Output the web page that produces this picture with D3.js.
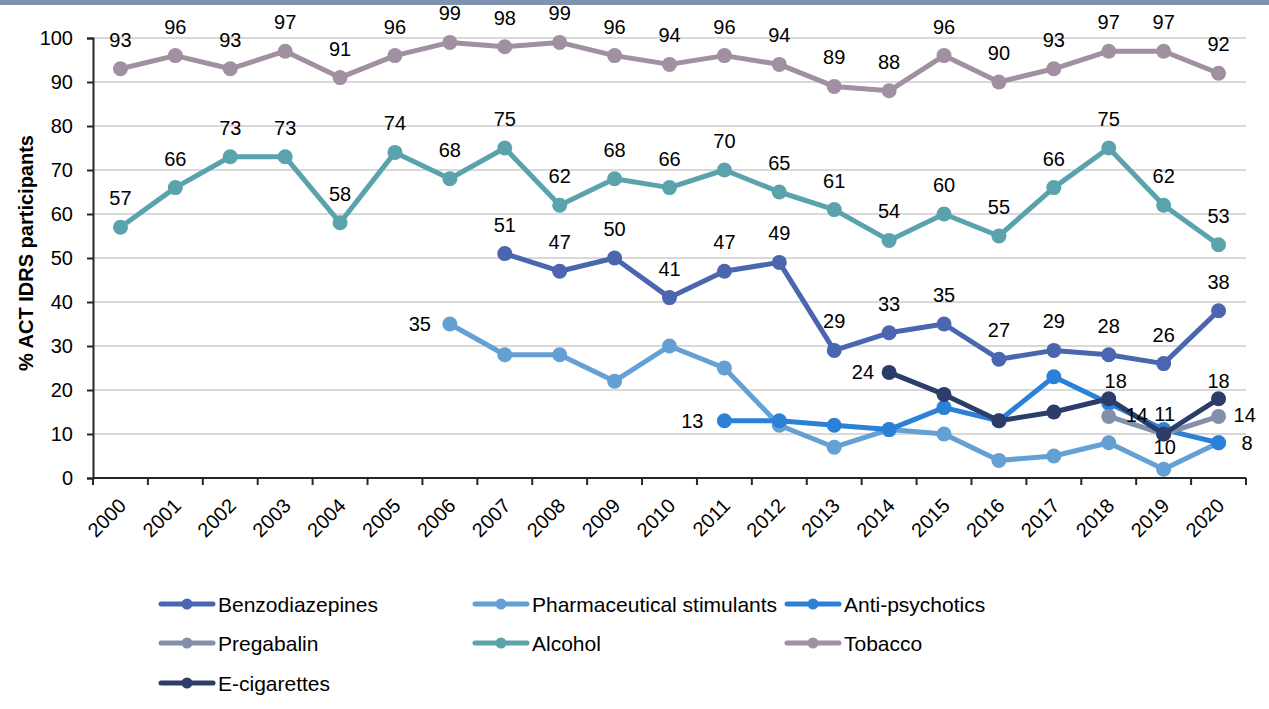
<!DOCTYPE html>
<html><head><meta charset="utf-8">
<script src="https://cdn.jsdelivr.net/npm/d3@7"></script>
<style>body{margin:0;background:#fff;}svg{display:block;font-family:"Liberation Sans",Arial,sans-serif;}</style>
</head><body><svg id="c" width="1269" height="709"></svg>
<script>
const years = ["2000","2001","2002","2003","2004","2005","2006","2007","2008","2009","2010","2011","2012","2013","2014","2015","2016","2017","2018","2019","2020"];
const yTicks = [0,10,20,30,40,50,60,70,80,90,100];
const benzo = [null,null,null,null,null,null,null,51,47,50,41,47,49,29,33,35,27,29,28,26,38];
const pharma = [null,null,null,null,null,null,35,28,28,22,30,25,12,7,11,10,4,5,8,2,8];
const antipsych = [null,null,null,null,null,null,null,null,null,null,null,13,13,12,11,16,13,23,17,11,8];
const pregabalin = [null,null,null,null,null,null,null,null,null,null,null,null,null,null,null,null,null,null,14,10,14];
const alcohol = [57,66,73,73,58,74,68,75,62,68,66,70,65,61,54,60,55,66,75,62,53];
const tobacco = [93,96,93,97,91,96,99,98,99,96,94,96,94,89,88,96,90,93,97,97,92];
const ecig = [null,null,null,null,null,null,null,null,null,null,null,null,null,null,24,19,13,15,18,10,18];
const seriesNames = ["Benzodiazepines","Pharmaceutical stimulants","Anti-psychotics","Pregabalin","Alcohol","Tobacco","E-cigarettes"];

// label layout: [index, anchor, dx, dy]
const series = [
  {name:seriesNames[0], values:benzo, color:"#4a66ae", labels:"above"},
  {name:seriesNames[1], values:pharma, color:"#64a0d4", labels:[[6,"end",-19,7]]},
  {name:seriesNames[2], values:antipsych, color:"#2b80d8", labels:[[11,"end",-21,7],[19,"middle",1,-9],[20,"start",23,7]]},
  {name:seriesNames[3], values:pregabalin, color:"#8390aa", labels:[[18,"start",17,6],[20,"start",15,6]]},
  {name:seriesNames[4], values:alcohol, color:"#5aa3ad", labels:"above"},
  {name:seriesNames[5], values:tobacco, color:"#a090a1", labels:"above"},
  {name:seriesNames[6], values:ecig, color:"#2c3d69", labels:[[14,"end",-15,7],[18,"middle",7,-11],[19,"middle",1,20],[20,"middle",0,-11]]}
];

const svg = d3.select("#c");
svg.append("rect").attr("x",0).attr("y",0).attr("width",1269).attr("height",5).attr("fill","#7f93b1");

const m = {l:93, r:1246, t:38, b:478};
const x = d3.scaleBand().domain(years).range([m.l, m.r]);
const y = d3.scaleLinear().domain([0,100]).range([m.b, m.t]);
const cx = d => x(d) + x.bandwidth()/2;
const FS = 20;

svg.append("g").selectAll("line").data(yTicks.filter(t=>t>0)).join("line")
  .attr("x1",m.l).attr("x2",m.r).attr("y1",d=>y(d)).attr("y2",d=>y(d))
  .attr("stroke","#d9d9d9").attr("stroke-width",2);

const ya = svg.append("g").attr("transform",`translate(${m.l},0)`)
  .call(d3.axisLeft(y).tickValues(yTicks).tickSize(6).tickPadding(14));
ya.select(".domain").attr("stroke","#262626").attr("stroke-width",2);
ya.selectAll(".tick line").attr("stroke","#262626").attr("stroke-width",2);
ya.selectAll("text").attr("font-size",FS).attr("fill","#000").attr("font-family","Liberation Sans, Arial, sans-serif");

const xa = svg.append("g").attr("transform",`translate(0,${m.b})`)
  .call(d3.axisBottom(x).tickSize(0).tickPadding(0));
xa.select(".domain").attr("stroke","#262626").attr("stroke-width",2).attr("d",`M${m.l},0H${m.r}`);
xa.selectAll(".tick text").remove();
const bounds = d3.range(years.length+1).map(i=>m.l + i*x.step());
xa.selectAll("line.b").data(bounds).join("line").attr("class","b")
  .attr("x1",d=>d).attr("x2",d=>d).attr("y1",0).attr("y2",7)
  .attr("stroke","#262626").attr("stroke-width",2);
xa.selectAll("text.yl").data(years).join("text").attr("class","yl")
  .attr("transform",d=>`translate(${cx(d)+7},${29}) rotate(-45)`)
  .attr("text-anchor","end").attr("font-size",FS).attr("fill","#000").text(d=>d);

svg.append("text").attr("transform","translate(33,253) rotate(-90)")
  .attr("text-anchor","middle").attr("font-size",20).attr("font-weight","bold").text("% ACT IDRS participants");

const line = d3.line().defined(d=>d[1]!=null).x(d=>cx(d[0])).y(d=>y(d[1]));
series.forEach(s=>{
  const pts = years.map((yr,i)=>[yr,s.values[i]]);
  const g = svg.append("g");
  g.append("path").attr("d",line(pts)).attr("fill","none").attr("stroke",s.color).attr("stroke-width",5).attr("stroke-linejoin","round");
  g.selectAll("circle").data(pts.filter(p=>p[1]!=null)).join("circle")
    .attr("cx",d=>cx(d[0])).attr("cy",d=>y(d[1])).attr("r",7.5).attr("fill",s.color);
});
series.forEach(s=>{
  let labs = s.labels==="above" ? years.map((yr,i)=>[i,"middle",0,-22]).filter(l=>s.values[l[0]]!=null) : s.labels;
  labs.forEach(([i,anchor,dx,dy])=>{
    const v = s.values[i], px = cx(years[i]), py = y(v);
    svg.append("text").attr("font-size",FS).attr("fill","#000").text(v)
      .attr("x",px+dx).attr("y",py+dy).attr("text-anchor",anchor);
  });
});

const colX = [159,473,785], rowY = [604,643,683];
series.forEach((s,i)=>{
  const lx = colX[i%3], ly = rowY[Math.floor(i/3)];
  const g = svg.append("g");
  g.append("line").attr("x1",lx+2).attr("x2",lx+54).attr("y1",ly).attr("y2",ly).attr("stroke",s.color).attr("stroke-width",5).attr("stroke-linecap","round");
  g.append("circle").attr("cx",lx+28).attr("cy",ly).attr("r",5.5).attr("fill",s.color);
  g.append("text").attr("x",lx+59).attr("y",ly+7.5).attr("font-size",21).attr("fill","#000").text(s.name);
});
</script></body></html>
